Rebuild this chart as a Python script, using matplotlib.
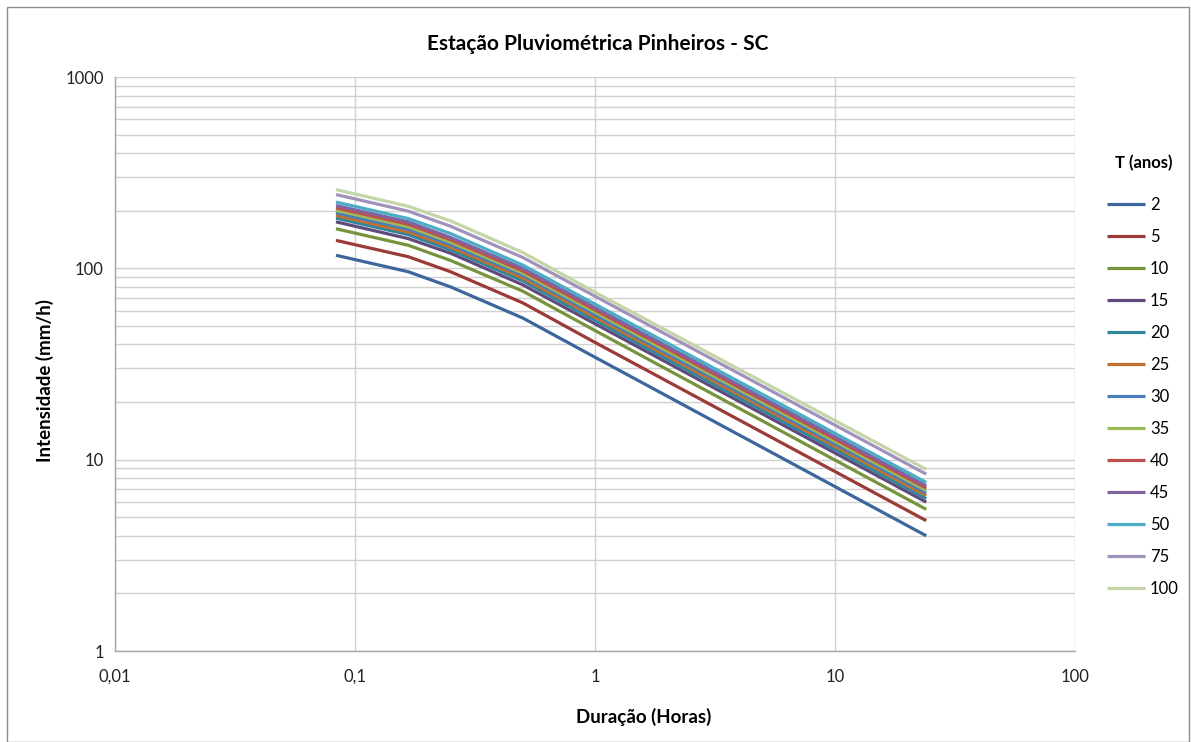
import matplotlib
matplotlib.use("Agg")
import matplotlib.pyplot as plt
from matplotlib.ticker import FixedLocator, FixedFormatter, LogLocator, NullFormatter, NullLocator
from matplotlib.patches import Rectangle

# Durations in hours (5, 10, 15, 30 min, 1 h, 24 h)
durations_h = [5/60, 10/60, 15/60, 30/60, 1.0, 24.0]

return_periods = ["2", "5", "10", "15", "20", "25", "30", "35", "40", "45", "50", "75", "100"]

i_T2   = [117, 96, 80, 55, 34.3, 4.0]
i_T5   = [140, 115, 96, 66, 41.0, 4.8]
i_T10  = [161, 132, 110, 76, 47.3, 5.5]
i_T15  = [175, 143, 120, 82, 51.3, 6.0]
i_T20  = [183, 150, 125, 86, 53.5, 6.25]
i_T25  = [189, 155, 129, 89, 55.5, 6.5]
i_T30  = [195, 160, 133, 92, 57.3, 6.7]
i_T35  = [201, 165, 137, 94.5, 59.0, 6.9]
i_T40  = [207, 170, 141, 97, 60.7, 7.1]
i_T45  = [213, 175, 145, 100, 62.4, 7.3]
i_T50  = [222, 182, 152, 104, 65.0, 7.6]
i_T75  = [243, 199, 166, 114, 71.5, 8.4]
i_T100 = [258, 211, 177, 121, 75.0, 8.9]

series = [i_T2, i_T5, i_T10, i_T15, i_T20, i_T25, i_T30, i_T35, i_T40, i_T45, i_T50, i_T75, i_T100]

colors = ["#3C669C", "#9B3A37", "#77933C", "#604A7B", "#31859C", "#C0712F",
          "#4A7EBB", "#9BBB59", "#C0504D", "#8064A2", "#4BACC6", "#A092BD", "#C4D6A8"]

x_ticks = [0.01, 0.1, 1, 10, 100]
x_tick_labels = ["0,01", "0,1", "1", "10", "100"]
y_ticks = [1, 10, 100, 1000]
y_tick_labels = ["1", "10", "100", "1000"]

plt.rcParams['font.family'] = ['Lato', 'DejaVu Sans']

fig = plt.figure(figsize=(11.91, 7.42), dpi=100)
ax = fig.add_axes([115/1191, 1 - 651/742, (1075 - 115)/1191, (651 - 77)/742])

for vals, lab, c in zip(series, return_periods, colors):
    ax.plot(durations_h, vals, color=c, lw=2.3, label=lab, solid_capstyle='butt')

ax.set_xscale('log')
ax.set_yscale('log')
ax.set_xlim(0.01, 100)
ax.set_ylim(1, 1000)

ax.xaxis.set_major_locator(FixedLocator(x_ticks))
ax.xaxis.set_major_formatter(FixedFormatter(x_tick_labels))
ax.xaxis.set_minor_locator(NullLocator())
ax.yaxis.set_major_locator(FixedLocator(y_ticks))
ax.yaxis.set_major_formatter(FixedFormatter(y_tick_labels))
ax.yaxis.set_minor_locator(LogLocator(base=10, subs=range(2, 10)))
ax.yaxis.set_minor_formatter(NullFormatter())

ax.grid(True, which='major', color='#D0D0D0', lw=1.0)
ax.grid(True, which='minor', axis='y', color='#D0D0D0', lw=1.0)
ax.set_axisbelow(True)
for s in ['top', 'right']:
    ax.spines[s].set_visible(False)
for s in ['left', 'bottom']:
    ax.spines[s].set_color('#A6A6A6')
    ax.spines[s].set_linewidth(1.0)

ax.tick_params(axis='both', which='both', length=0, labelsize=12, colors='#222222', pad=8)
ax.tick_params(axis='x', pad=13)

fig.text(644/1191, 1 - 717/742, "Duração (Horas)", ha='center', va='center',
         fontsize=13.5, fontweight='bold')
fig.text(45/1191, 1 - 381/742, "Intensidade (mm/h)", ha='center', va='center',
         rotation=90, fontsize=13.5, fontweight='bold')
fig.text(598/1191, 1 - 44/742, "Estação Pluviométrica Pinheiros - SC", ha='center', va='center',
         fontsize=15, fontweight='bold')

fig.text(1115/1191, 1 - 163/742, "T (anos)", ha='left', va='center',
         fontsize=12, fontweight='bold')
leg = fig.legend(loc='upper left', bbox_to_anchor=(1100/1191, 1 - 190/742), frameon=False,
                 fontsize=12, handlelength=2.3, handletextpad=0.3,
                 labelspacing=0.96, borderaxespad=0)

fig.add_artist(Rectangle((7/1191, 0), 1 - 7/1191 - 2/1191, 1 - 7/742, transform=fig.transFigure,
                         fill=False, edgecolor='#8C8C8C', lw=1.0))

fig.savefig("out.png", dpi=100)
